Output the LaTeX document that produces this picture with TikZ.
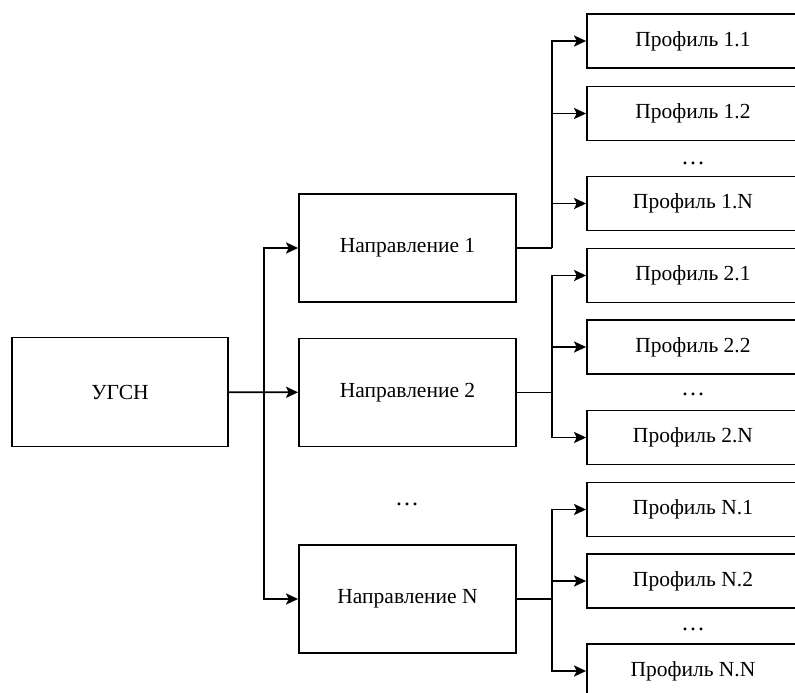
\documentclass[tikz,border=0pt]{standalone}
\usepackage{fontspec}
\setmainfont{Liberation Serif}
\usetikzlibrary{arrows.meta}
\tikzset{
  box/.style={draw, line width=1.8pt, inner sep=0pt, font=\fontsize{21.5}{26}\selectfont},
  dirbox/.style={box, minimum width=217pt, minimum height=108pt},
  profbox/.style={box, minimum width=212pt, minimum height=54pt},
  link/.style={line width=1.8pt},
  arr/.style={link, -{Stealth[length=12pt,width=11pt,inset=2.5pt]}},
  gap/.style={font=\fontsize{24}{28}\selectfont}
}
\begin{document}
\begin{tikzpicture}[x=1pt,y=-1pt]
  \clip (0,0) rectangle (795,693);
  \fill[white] (0,0) rectangle (795,693);
  % left part
  \node[box, minimum width=216pt, minimum height=109pt] (ugsn) at (120,392) {УГСН};
  \node[dirbox] (nap1) at (407.5,248) {Направление 1};
  \node[dirbox] (nap2) at (407.5,392.5) {Направление 2};
  \node[dirbox] (napN) at (407.5,599) {Направление N};
  \node[gap] (dotsN) at (407,504) {…};
  \coordinate (b0) at (264,392);
  \draw[arr] (ugsn) -- (nap2);
  \draw[arr] (b0) |- (nap1);
  \draw[arr] (b0) |- (napN);
  % profiles
  \node[profbox] (p11) at (693,41) {Профиль 1.1};
  \node[profbox] (p12) at (693,113.5) {Профиль 1.2};
  \node[gap] (d1) at (693,163) {…};
  \node[profbox] (p1N) at (693,203.5) {Профиль 1.N};
  \node[profbox] (p21) at (693,275.5) {Профиль 2.1};
  \node[profbox] (p22) at (693,347) {Профиль 2.2};
  \node[gap] (d2) at (693,394) {…};
  \node[profbox] (p2N) at (693,437.5) {Профиль 2.N};
  \node[profbox] (pN1) at (693,509.5) {Профиль N.1};
  \node[profbox] (pN2) at (693,581) {Профиль N.2};
  \node[gap] (d3) at (693,629) {…};
  \node[profbox] (pNN) at (693,671) {Профиль N.N};
  \coordinate (b1) at (552,248);
  \coordinate (b2) at (552,392.5);
  \coordinate (b3) at (552,599);
  \draw[link] (nap1) -- (b1);
  \draw[link] (nap2) -- (b2);
  \draw[link] (napN) -- (b3);
  \foreach \g/\a/\b/\c in {1/p11/p12/p1N, 2/p21/p22/p2N, 3/pN1/pN2/pNN} {
    \draw[arr] (b\g) |- (\a);
    \draw[arr] (b\g) |- (\b);
    \draw[arr] (b\g) |- (\c);
  }
\end{tikzpicture}
\end{document}
